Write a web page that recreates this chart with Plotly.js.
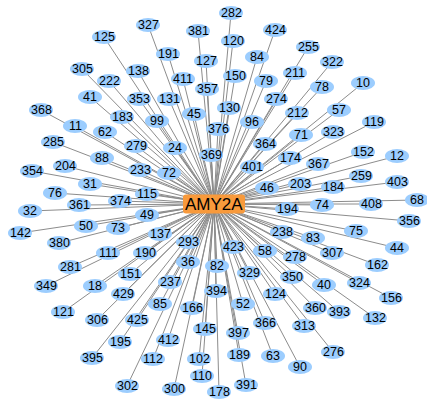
<!DOCTYPE html>
<html>
<head>
<meta charset="utf-8">
<script src="https://cdn.plot.ly/plotly-3.0.1.min.js"></script>
<style>html,body{margin:0;padding:0;background:#fff;}#chart{width:427px;height:403px;}</style>
</head>
<body>
<div id="chart"></div>
<script>
// Hub node
const hubLabel = 'AMY2A';
const hubX = 214;
const hubY = 204;

// Partner nodes (labels and layout positions)
const nodeLabels = ['282','327','381','424','125','120','191','127','84','255','322','305','138','222','411','150','79','211','10','41','353','357','78','368','183','131','274','212','57','99','45','130','96','11','62','279','376','364','71','323','119','285','88','24','369','401','174','367','152','12','354','204','233','72','203','184','259','403','76','31','115','46','408','68','32','361','374','194','74','356','142','50','73','49','137','293','238','83','75','44','380','111','190','36','423','58','307','162','281','349','18','151','237','82','329','278','324','156','121','429','85','394','124','350','40','393','132','306','425','166','52','360','313','366','195','145','397','412','395','112','102','189','63','276','110','90','302','300','178','391'];
const nodeX = [231,148,198,275,104,233,168,206,257,308,332,82,138,109,183,235,266,295,363,90,139,207,322,41,122,169,276,297,339,157,194,229,252,75,105,136,218,265,301,333,374,53,102,175,211,252,290,318,363,397,32,65,140,169,300,333,361,397,55,90,147,267,371,417,30,79,120,287,322,409,20,86,118,147,160,188,282,313,356,397,59,108,145,188,233,265,332,377,70,46,95,130,170,217,249,295,359,391,63,123,160,216,275,292,324,339,375,97,137,192,243,315,304,265,120,205,238,168,92,153,199,239,273,333,202,300,127,174,219,246];
const nodeY = [13,25,31,30,37,41,54,61,57,47,62,69,71,81,79,76,81,73,83,97,99,89,87,110,117,99,99,113,110,121,114,108,122,126,132,146,129,144,135,132,122,142,158,148,155,167,158,164,152,156,171,166,170,173,184,187,176,182,193,184,194,188,204,200,211,205,201,209,205,221,233,226,228,215,234,242,232,238,231,248,243,253,253,262,247,251,253,265,267,286,286,274,282,266,273,257,283,298,312,294,304,291,294,277,285,312,318,320,320,308,304,308,326,323,342,329,333,340,358,359,359,355,356,352,376,367,386,389,392,385];

// Edges hub -> every node
const ex = [], ey = [];
for (let i = 0; i < nodeLabels.length; i++) {
  ex.push(hubX, nodeX[i], null);
  ey.push(hubY, nodeY[i], null);
}

const traces = [{
  type: 'scatter', mode: 'lines', x: ex, y: ey,
  line: {color: 'rgb(140,140,140)', width: 1},
  hoverinfo: 'skip'
}];

const shapes = [];
const annotations = [];
for (let i = 0; i < nodeLabels.length; i++) {
  shapes.push({
    type: 'circle', xref: 'x', yref: 'y',
    xsizemode: 'pixel', ysizemode: 'pixel',
    xanchor: nodeX[i], yanchor: nodeY[i],
    x0: -12, x1: 12, y0: -7, y1: 7,
    fillcolor: '#9CCDFE', line: {width: 0}, layer: 'above'
  });
  annotations.push({
    x: nodeX[i], y: nodeY[i], xref: 'x', yref: 'y',
    text: nodeLabels[i], showarrow: false,
    font: {family: 'Liberation Sans, Arial, sans-serif', size: 12.5, color: '#000'}
  });
}
shapes.push({
  type: 'path', xref: 'x', yref: 'y',
  xsizemode: 'pixel', ysizemode: 'pixel',
  xanchor: hubX, yanchor: hubY,
  path: 'M -28,-9.5 L 28,-9.5 Q 31,-9.5 31,-6.5 L 31,6.5 Q 31,9.5 28,9.5 L -28,9.5 Q -31,9.5 -31,6.5 L -31,-6.5 Q -31,-9.5 -28,-9.5 Z',
  fillcolor: '#F89A3C', line: {width: 0}, layer: 'above'
});
annotations.push({
  x: hubX, y: hubY, xref: 'x', yref: 'y',
  text: hubLabel, showarrow: false,
  font: {family: 'Liberation Sans, Arial, sans-serif', size: 17, color: '#000'}
});

const layout = {
  width: 427, height: 403,
  margin: {l: 0, r: 0, t: 0, b: 0},
  paper_bgcolor: '#fff', plot_bgcolor: '#fff',
  showlegend: false,
  xaxis: {range: [0, 427], visible: false, fixedrange: true},
  yaxis: {range: [403, 0], visible: false, fixedrange: true},
  shapes: shapes,
  annotations: annotations,
  hovermode: false
};

Plotly.newPlot('chart', traces, layout, {staticPlot: true, displayModeBar: false});
</script>
</body>
</html>
